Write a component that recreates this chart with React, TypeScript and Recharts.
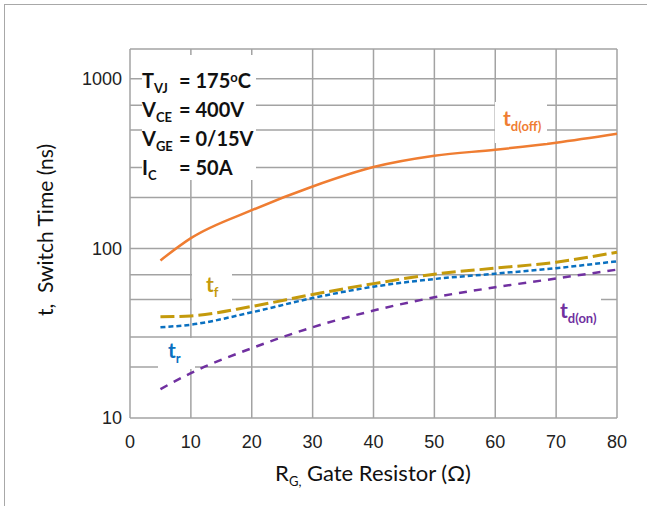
import { CartesianGrid, Line, LineChart, XAxis, YAxis } from "recharts";
import type { CSSProperties, ReactNode } from "react";

// gate resistor values (ohm) where the curves were read
const resistance = [5, 10, 20, 30, 40, 50, 60, 70, 80];
// switching times (ns)
const tdOff = [85, 115, 168, 232, 302, 352, 382, 420, 474];
const tf = [39.5, 40, 45.5, 53.5, 62, 70.5, 76.5, 83, 95];
const tr = [34.3, 35.5, 42, 51, 59.5, 66, 71, 76.5, 84];
const tdOn = [14.8, 18.4, 25.8, 34.3, 43, 51.5, 59, 66.5, 75];

const xTicks = [0, 10, 20, 30, 40, 50, 60, 70, 80];
const yTicks = [10, 100, 1000];
const yGrid = [10, 20, 30, 40, 50, 60, 70, 80, 90, 100, 200, 300, 400, 500, 600, 700, 800, 900, 1000, 1500];

const data = resistance.map((r, i) => ({
  r,
  tdOff: tdOff[i],
  tf: tf[i],
  tr: tr[i],
  tdOn: tdOn[i],
}));

const GRID = "#a3a3a3";
const CALIBRI = "Lato, 'Open Sans', sans-serif";
const tickStyle = { fontFamily: "'Liberation Sans', Arial, sans-serif", fontSize: 18, fill: "#222" };

function Sub({ children, size = 13 }: { children: ReactNode; size?: number }) {
  return <span style={{ fontSize: size, position: "relative", top: 5 }}>{children}</span>;
}

function CurveLabel({ style, color, sub }: { style: CSSProperties; color: string; sub: string }) {
  return (
    <div
      style={{
        position: "absolute",
        background: "#fff",
        color,
        fontFamily: CALIBRI,
        fontWeight: 700,
        fontSize: 21,
        lineHeight: "24px",
        ...style,
      }}
    >
      t<Sub size={13}>{sub}</Sub>
    </div>
  );
}

export default function App() {
  const symbol: CSSProperties = { display: "inline-block", width: 37 };
  return (
    <div style={{ position: "fixed", inset: 0, overflow: "hidden", background: "#fff" }}>
      {/* outer frame, runs off the right and bottom */}
      <div
        style={{
          position: "absolute",
          left: 4,
          top: 4,
          width: 700,
          height: 600,
          border: "1.5px solid #a8a8a8",
        }}
      />
      <div style={{ position: "absolute", left: 0, top: 0 }}>
        <LineChart width={647} height={506} data={data} margin={{ top: 49, right: 30, bottom: 48, left: 60 }}>
          <CartesianGrid stroke={GRID} strokeWidth={1.5} horizontalValues={yGrid} verticalValues={xTicks} />
          <XAxis
            dataKey="r"
            type="number"
            domain={[0, 80]}
            ticks={xTicks}
            axisLine={false}
            tickLine={false}
            tickMargin={11}
            height={40}
            tick={tickStyle}
          />
          <YAxis
            scale="log"
            domain={[10, 1500]}
            allowDataOverflow
            ticks={yTicks}
            axisLine={false}
            tickLine={false}
            width={70}
            tick={tickStyle}
          />
          <Line type="monotone" dataKey="tdOff" stroke="#ef7d32" strokeWidth={2.5} dot={false} isAnimationActive={false} />
          <Line type="monotone" dataKey="tdOn" stroke="#7030a0" strokeWidth={2.5} strokeDasharray="8 7" dot={false} isAnimationActive={false} />
          <Line type="monotone" dataKey="tf" stroke="#c49a0c" strokeWidth={3} strokeDasharray="14 5" dot={false} isAnimationActive={false} />
          <Line type="monotone" dataKey="tr" stroke="#0a70c0" strokeWidth={2.5} strokeDasharray="5 3" dot={false} isAnimationActive={false} />
        </LineChart>
      </div>

      {/* conditions box */}
      <div
        style={{
          position: "absolute",
          left: 142,
          top: 55,
          width: 114,
          height: 113,
          paddingTop: 12,
          background: "#fff",
          fontFamily: CALIBRI,
          fontWeight: 700,
          fontSize: 20,
          lineHeight: "26px",
          color: "#111",
          whiteSpace: "nowrap",
        }}
      >
        <div>
          <span style={symbol}>T<Sub>VJ</Sub></span>= 175<span style={{ fontSize: 13, position: "relative", top: -6 }}>o</span>C
        </div>
        <div>
          <span style={symbol}>V<Sub>CE</Sub></span>= 400V
        </div>
        <div>
          <span style={symbol}>V<Sub>GE</Sub></span>= 0/15V
        </div>
        <div>
          <span style={symbol}>I<Sub>C</Sub></span>= 50A
        </div>
      </div>

      <CurveLabel color="#ef7d32" sub="d(off)" style={{ left: 495, top: 102, padding: "4px 6px 10px 8px" }} />
      <CurveLabel color="#c49a0c" sub="f" style={{ left: 192, top: 272, padding: "0 14px 4px 14px" }} />
      <CurveLabel color="#0a70c0" sub="r" style={{ left: 158, top: 338, padding: "0 14px 4px 10px" }} />
      <CurveLabel color="#7030a0" sub="d(on)" style={{ left: 557, top: 298, padding: "0 4px 6px 3px" }} />

      {/* axis titles */}
      <div
        style={{
          position: "absolute",
          left: 44,
          top: 230,
          transform: "translate(-50%, -50%) rotate(-90deg)",
          fontFamily: CALIBRI,
          fontSize: 21,
          color: "#111",
          whiteSpace: "nowrap",
        }}
      >
        t,&nbsp; Switch Time (ns)
      </div>
      <div
        style={{
          position: "absolute",
          left: 373,
          top: 472,
          transform: "translate(-50%, -50%)",
          fontFamily: CALIBRI,
          fontSize: 22,
          color: "#111",
          whiteSpace: "nowrap",
        }}
      >
        R<span style={{ fontSize: 13, position: "relative", top: 5 }}>G,</span> Gate Resistor (Ω)
      </div>
    </div>
  );
}
